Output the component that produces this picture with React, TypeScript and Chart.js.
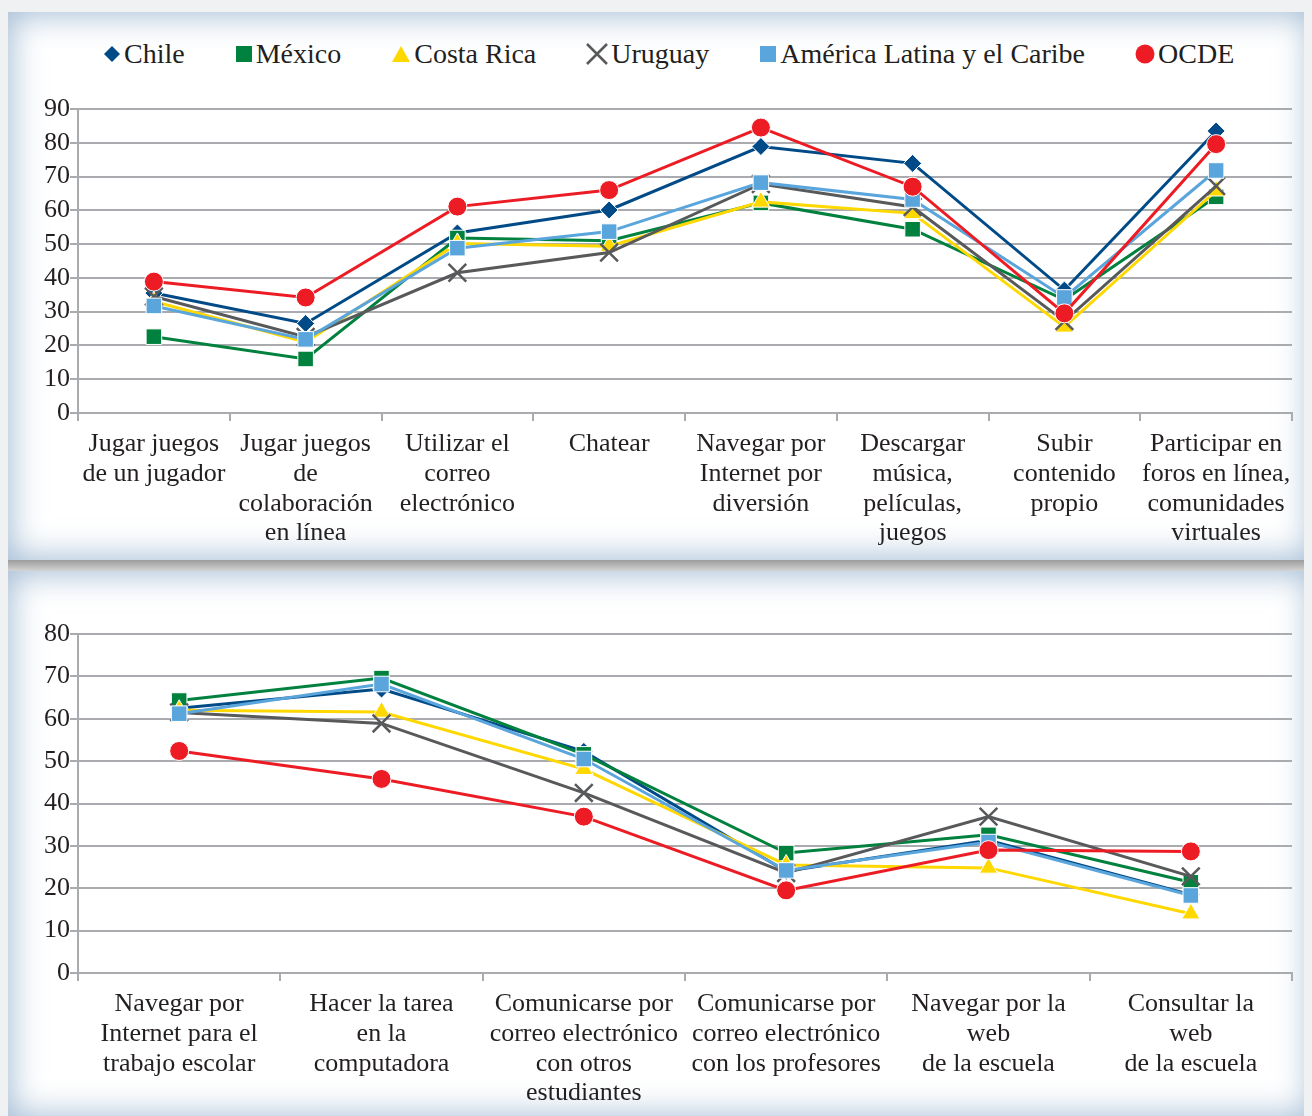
import React, { useEffect, useRef } from "react";
import { Chart, registerables } from "chart.js";

Chart.register(...registerables);

// ---------- DATA ----------
const SERIES_NAMES = ["Chile", "México", "Costa Rica", "Uruguay", "América Latina y el Caribe", "OCDE"];

const TOP_CATEGORIES = [
  ["Jugar juegos", "de un jugador"],
  ["Jugar juegos", "de", "colaboración", "en línea"],
  ["Utilizar el", "correo", "electrónico"],
  ["Chatear"],
  ["Navegar por", "Internet por", "diversión"],
  ["Descargar", "música,", "películas,", "juegos"],
  ["Subir", "contenido", "propio"],
  ["Participar en", "foros en línea,", "comunidades", "virtuales"],
];
const TOP_CHILE = [35.5, 26.5, 53.3, 60.1, 78.9, 73.9, 36.4, 83.5];
const TOP_MEXICO = [22.6, 16.0, 51.8, 51.0, 62.2, 54.4, 33.5, 64.0];
const TOP_COSTA_RICA = [33.0, 21.0, 50.2, 49.4, 62.5, 59.1, 25.5, 65.8];
const TOP_URUGUAY = [34.5, 22.5, 41.5, 47.5, 67.8, 61.0, 27.2, 67.2];
const TOP_LAC = [31.7, 21.8, 48.8, 53.7, 68.2, 63.2, 34.2, 71.8];
const TOP_OCDE = [38.9, 34.2, 61.1, 66.0, 84.5, 67.0, 29.5, 79.6];
const TOP_Y_MAX = 90;

const BOTTOM_CATEGORIES = [
  ["Navegar por", "Internet para el", "trabajo escolar"],
  ["Hacer la tarea", "en la", "computadora"],
  ["Comunicarse por", "correo electrónico", "con otros", "estudiantes"],
  ["Comunicarse por", "correo electrónico", "con los profesores"],
  ["Navegar por la", "web", "de la escuela"],
  ["Consultar la", "web", "de la escuela"],
];
const BOTTOM_CHILE = [62.5, 67.0, 52.3, 24.0, 31.3, 18.5];
const BOTTOM_MEXICO = [64.3, 69.6, 51.6, 28.3, 32.6, 21.4];
const BOTTOM_COSTA_RICA = [62.0, 61.6, 48.1, 25.5, 24.8, 14.0];
const BOTTOM_URUGUAY = [61.5, 58.9, 42.5, 23.6, 36.9, 22.8];
const BOTTOM_LAC = [61.2, 68.2, 50.5, 24.2, 30.9, 18.3];
const BOTTOM_OCDE = [52.4, 45.8, 36.9, 19.5, 29.0, 28.7];
const BOTTOM_Y_MAX = 80;
const Y_STEP = 10;

// ---------- STYLE ----------
const FONT = "'Liberation Serif', 'Times New Roman', serif";
const TEXT = "#231f20";
const GRID = "#a9abae";

const SERIES_STYLE = [
  { color: "#004b87", pointStyle: "rectRot", radius: 9, order: 5 },
  { color: "#00813e", pointStyle: "rect", radius: 11, order: 4 },
  { color: "#ffd800", pointStyle: "triangle", radius: 10.5, order: 3 },
  { color: "#58595b", pointStyle: "crossRot", radius: 12.5, order: 2 },
  { color: "#5aa5dc", pointStyle: "rect", radius: 11, order: 1 },
  { color: "#ed1c24", pointStyle: "circle", radius: 9.5, order: 0 },
];

if (typeof document !== "undefined") {
  document.documentElement.style.overflow = "hidden";
  document.body.style.overflow = "hidden";
  document.body.style.background = "#eff1f3";
}

function buildConfig(labels: string[][], series: number[][], yMax: number, height: number, areaTop: number, areaBottom: number): any {
  const datasets = series.map((values, i) => {
    const st = SERIES_STYLE[i];
    const isCross = st.pointStyle === "crossRot";
    return {
      label: SERIES_NAMES[i],
      data: values,
      borderColor: st.color,
      backgroundColor: st.color,
      borderWidth: 3,
      tension: 0,
      order: st.order,
      pointStyle: st.pointStyle,
      pointRadius: st.radius,
      pointHoverRadius: st.radius,
      pointBackgroundColor: st.color,
      pointBorderColor: isCross ? st.color : "#ffffff",
      pointBorderWidth: isCross ? 2.5 : 1,
    };
  });
  const tickFont = { family: FONT, size: 26, lineHeight: 1.15 };
  return {
    type: "line",
    data: { labels, datasets },
    options: {
      responsive: false,
      maintainAspectRatio: false,
      animation: false,
      devicePixelRatio: 1,
      layout: { padding: { left: 0, right: 20, top: areaTop, bottom: 0 } },
      plugins: { legend: { display: false }, tooltip: { enabled: false }, title: { display: false } },
      scales: {
        x: {
          type: "category",
          offset: true,
          ticks: { font: tickFont, color: TEXT, padding: 8, maxRotation: 0, minRotation: 0, autoSkip: false },
          grid: { offset: true, drawOnChartArea: false, color: GRID, lineWidth: 2, tickLength: 8 },
          border: { display: true, color: GRID, width: 2 },
          afterFit: (s: any) => { s.height = height - areaBottom; },
        },
        y: {
          min: 0,
          max: yMax,
          ticks: { stepSize: Y_STEP, font: tickFont, color: TEXT, padding: 0 },
          grid: { color: GRID, lineWidth: 2, tickLength: 8, drawTicks: true },
          border: { display: true, color: GRID, width: 2 },
          afterFit: (s: any) => { s.width = 70; },
        },
      },
    },
  };
}

function LineChart({ labels, series, yMax, width, height, areaTop, areaBottom }: any) {
  const ref = useRef<HTMLCanvasElement | null>(null);
  useEffect(() => {
    if (!ref.current) return;
    const chart = new Chart(ref.current, buildConfig(labels, series, yMax, height, areaTop, areaBottom));
    return () => chart.destroy();
  }, []);
  return <canvas ref={ref} width={width} height={height} style={{ position: "absolute", left: 0, top: 0, width, height }} />;
}

function Marker({ kind, color }: { kind: string; color: string }) {
  if (kind === "rectRot")
    return (<svg width="18" height="18" viewBox="0 0 18 18"><polygon points="9,1 17,9 9,17 1,9" fill={color} /></svg>);
  if (kind === "rect")
    return (<svg width="18" height="18" viewBox="0 0 18 18"><rect x="1" y="1" width="16" height="16" fill={color} /></svg>);
  if (kind === "triangle")
    return (<svg width="20" height="18" viewBox="0 0 20 18"><polygon points="10,1 19,17 1,17" fill={color} /></svg>);
  if (kind === "crossRot")
    return (<svg width="22" height="22" viewBox="0 0 22 22"><path d="M1,1 L21,21 M21,1 L1,21" stroke={color} strokeWidth="2.5" /></svg>);
  return (<svg width="20" height="20" viewBox="0 0 20 20"><circle cx="10" cy="10" r="9.5" fill={color} /></svg>);
}

function Legend() {
  return (
    <div style={{ position: "absolute", left: 95, top: 25, height: 34, display: "flex", alignItems: "center", gap: 50, fontFamily: FONT, fontSize: 28, color: TEXT, whiteSpace: "nowrap" }}>
      {SERIES_NAMES.map((name, i) => (
        <div key={name} style={{ display: "flex", alignItems: "center", gap: 3 }}>
          <Marker kind={SERIES_STYLE[i].pointStyle} color={SERIES_STYLE[i].color} />
          <span>{name}</span>
        </div>
      ))}
    </div>
  );
}

const panelStyle = (h: number): React.CSSProperties => ({
  position: "relative",
  width: 1304,
  height: h,
  background: "#ffffff",
  boxShadow: "inset 0 0 32px 3px rgba(105,145,185,0.62)",
});

export default function App() {
  const topSeries = [TOP_CHILE, TOP_MEXICO, TOP_COSTA_RICA, TOP_URUGUAY, TOP_LAC, TOP_OCDE];
  const bottomSeries = [BOTTOM_CHILE, BOTTOM_MEXICO, BOTTOM_COSTA_RICA, BOTTOM_URUGUAY, BOTTOM_LAC, BOTTOM_OCDE];
  return (
    <div style={{ paddingTop: 4 }}>
      <div style={panelStyle(548)}>
        <Legend />
        <LineChart labels={TOP_CATEGORIES} series={topSeries} yMax={TOP_Y_MAX} width={1304} height={548} areaTop={97} areaBottom={401} />
      </div>
      <div style={{ width: 1304, height: 11, background: "linear-gradient(#9c9c9c, #d3d3d3)" }} />
      <div style={panelStyle(547)}>
        <LineChart labels={BOTTOM_CATEGORIES} series={bottomSeries} yMax={BOTTOM_Y_MAX} width={1304} height={547} areaTop={63} areaBottom={402} />
      </div>
    </div>
  );
}
